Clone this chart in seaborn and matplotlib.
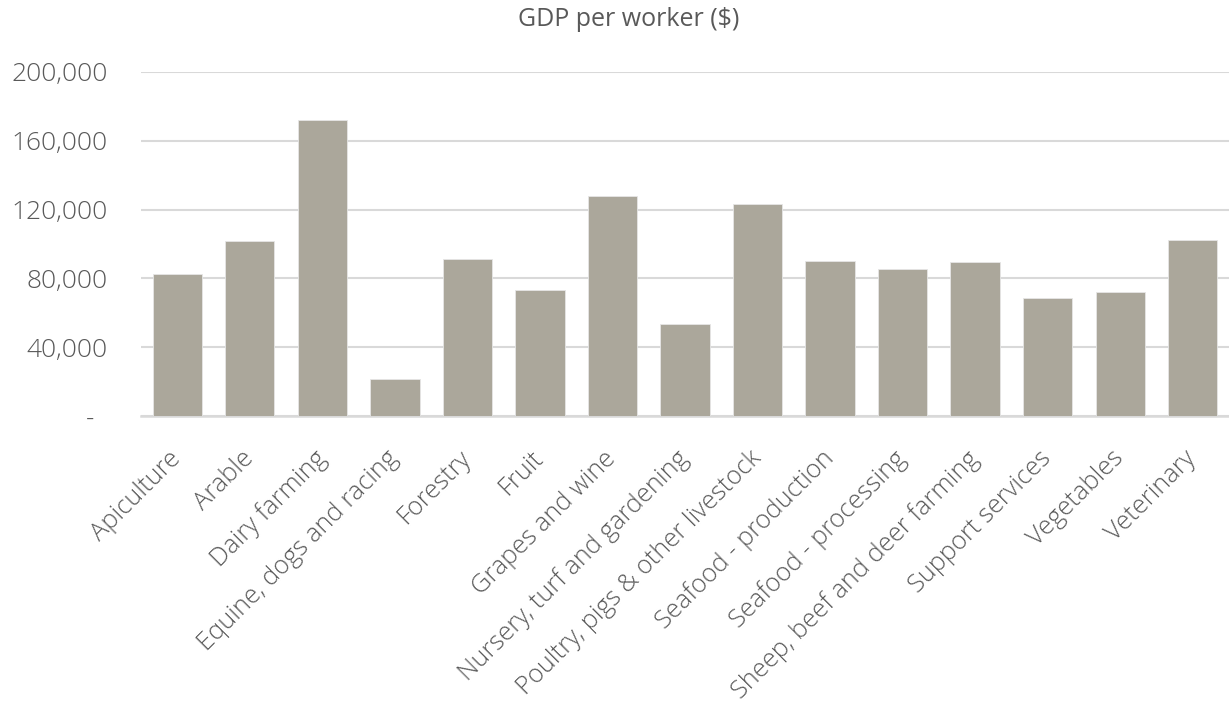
import pandas as pd
import matplotlib.pyplot as plt
import seaborn as sns

categories = ["Apiculture", "Arable", "Dairy farming", "Equine, dogs and racing",
              "Forestry", "Fruit", "Grapes and wine", "Nursery, turf and gardening",
              "Poultry, pigs & other livestock", "Seafood - production",
              "Seafood - processing", "Sheep, beef and deer farming",
              "Support services", "Vegetables", "Veterinary"]
gdp_per_worker = [82800, 101900, 172200, 21600, 91500, 73400, 128000, 53500,
                  123000, 90200, 85500, 89800, 68500, 72000, 102300]
y_ticks = [0, 40000, 80000, 120000, 160000, 200000]

df = pd.DataFrame({"sector": categories, "gdp": gdp_per_worker})

sns.set_style("white")
plt.rcParams['font.family'] = ['Open Sans', 'DejaVu Sans']
text_grey = "#595959"

fig = plt.figure(figsize=(12.29, 7.08), dpi=100)
ax = fig.add_axes([141 / 1229, 292 / 708, 1 - 141 / 1229, (416 - 72) / 708])

sns.barplot(data=df, x="sector", y="gdp", color="#aba79b", saturation=1,
            width=0.68, edgecolor="#e6e6e6", linewidth=0.6, ax=ax, zorder=3)

ax.set_xlim(-0.5, len(categories) - 0.5)
ax.set_ylim(0, 200000)
ax.set_yticks(y_ticks)
ax.set_yticklabels(["-  "] + [f"{v:,}" for v in y_ticks[1:]])
ax.yaxis.grid(True, color="#d9d9d9", linewidth=1.5, zorder=0)
ax.set_axisbelow(True)
for side in ["top", "right", "left"]:
    ax.spines[side].set_visible(False)
ax.spines["bottom"].set_color("#d9d9d9")
ax.spines["bottom"].set_linewidth(1.8)

ax.tick_params(axis="y", length=0, pad=24, labelsize=19, labelcolor=text_grey)
ax.tick_params(axis="x", length=0, pad=28, labelsize=18.3, labelcolor=text_grey)
plt.setp(ax.get_xticklabels(), rotation=45, ha="right", va="center",
         rotation_mode="anchor", fontweight="light")
plt.setp(ax.get_yticklabels(), fontweight="light")
ax.set_xlabel("")
ax.set_ylabel("")

fig.text(629 / 1229, 1 - 20 / 708, "GDP per worker ($)", ha="center", va="center",
         fontsize=18, color=text_grey)

fig.savefig("out.png", dpi=100)
